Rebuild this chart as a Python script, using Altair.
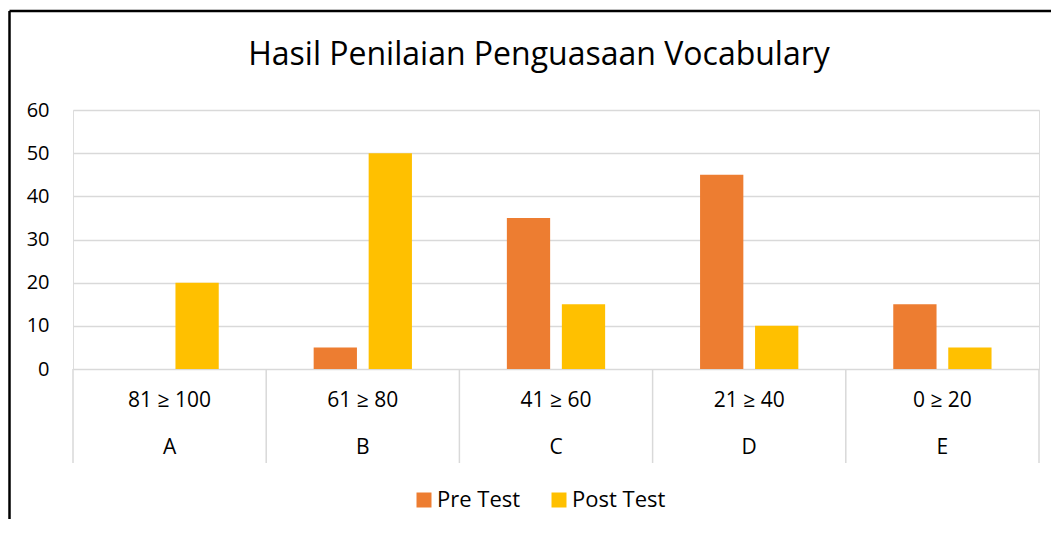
import altair as alt
import pandas as pd

# ---- data ----
categories = ["A", "B", "C", "D", "E"]
ranges = ["81 ≥ 100", "61 ≥ 80", "41 ≥ 60", "21 ≥ 40", "0 ≥ 20"]
series_names = ["Pre Test", "Post Test"]
pre_test = [0, 5, 35, 45, 15]
post_test = [20, 50, 15, 10, 5]
y_ticks = [0, 10, 20, 30, 40, 50, 60]
colors = ["#ED7D31", "#FFC000"]
title_text = "Hasil Penilaian Penguasaan Vocabulary"

rows = []
for c, a, b in zip(categories, pre_test, post_test):
    rows.append({"cat": c, "series": "Pre Test", "value": a})
    rows.append({"cat": c, "series": "Post Test", "value": b})
df = pd.DataFrame(rows)
lab = pd.DataFrame({"cat": categories, "range": ranges})
last = pd.DataFrame({"cat": [categories[-1]]})
one = pd.DataFrame({"k": [0]})

FONT = "Open Sans"
W, H = 966, 259

xscale = alt.Scale(domain=categories, paddingInner=0, paddingOuter=0)

bars = alt.Chart(df).mark_bar().encode(
    x=alt.X("cat:N", scale=xscale, axis=None),
    xOffset=alt.XOffset("series:N", scale=alt.Scale(domain=series_names, paddingInner=0.213, paddingOuter=0.863)),
    y=alt.Y("value:Q", scale=alt.Scale(domain=[0, 60], nice=False),
            axis=alt.Axis(values=y_ticks, title=None, domain=False, ticks=False, tickSize=0,
                          labelPadding=24, labelFont=FONT, labelFontSize=20, labelColor="#000000",
                          gridColor="#D9D9D9", gridWidth=1.5)),
    color=alt.Color("series:N", scale=alt.Scale(domain=series_names, range=colors),
                    legend=alt.Legend(title=None, orient="none", legendX=340, legendY=379,
                                      direction="horizontal", symbolType="square", symbolSize=225,
                                      symbolStrokeWidth=0, labelFont=FONT, labelFontSize=22,
                                      labelColor="#000000", labelOffset=2, columnPadding=27, padding=0)),
)

seps = alt.Chart(lab).mark_rule(color="#D9D9D9", strokeWidth=1.5).encode(
    x=alt.X("cat:N", scale=xscale, bandPosition=0, axis=None),
    y=alt.value(H),
    y2=alt.value(H + 94),
)
sep_last = alt.Chart(last).mark_rule(color="#D9D9D9", strokeWidth=1.5).encode(
    x=alt.X("cat:N", scale=xscale, bandPosition=1, axis=None),
    y=alt.value(H),
    y2=alt.value(H + 94),
)
range_text = alt.Chart(lab).mark_text(font=FONT, fontSize=21, color="#000000", baseline="middle").encode(
    x=alt.X("cat:N", scale=xscale, axis=None),
    y=alt.value(H + 32),
    text="range:N",
)
cat_text = alt.Chart(lab).mark_text(font=FONT, fontSize=21, color="#000000", baseline="middle").encode(
    x=alt.X("cat:N", scale=xscale, axis=None),
    y=alt.value(H + 79),
    text="cat:N",
)
title_mark = alt.Chart(one).mark_text(font=FONT, fontSize=32, color="#000000", baseline="alphabetic",
                                      align="center").encode(
    x=alt.value(W / 2 - 17),
    y=alt.value(-45),
    text=alt.value(title_text),
)
border_top = alt.Chart(one).mark_rule(color="#000000", strokeWidth=2.5).encode(
    x=alt.value(-63.5), x2=alt.value(W + 20), y=alt.value(-99)
)
border_left = alt.Chart(one).mark_rule(color="#000000", strokeWidth=2.5).encode(
    x=alt.value(-63.5), y=alt.value(-99), y2=alt.value(H + 200)
)

chart = alt.layer(bars, seps, sep_last, range_text, cat_text, title_mark, border_top, border_left).properties(
    width=W,
    height=H,
    autosize=alt.AutoSizeParams(type="none"),
    padding={"left": 65, "top": 102, "right": 12, "bottom": 150},
).configure_view(stroke=None).configure(background="white")

chart.save("out.html", embed_options={"renderer": "svg", "actions": False})
